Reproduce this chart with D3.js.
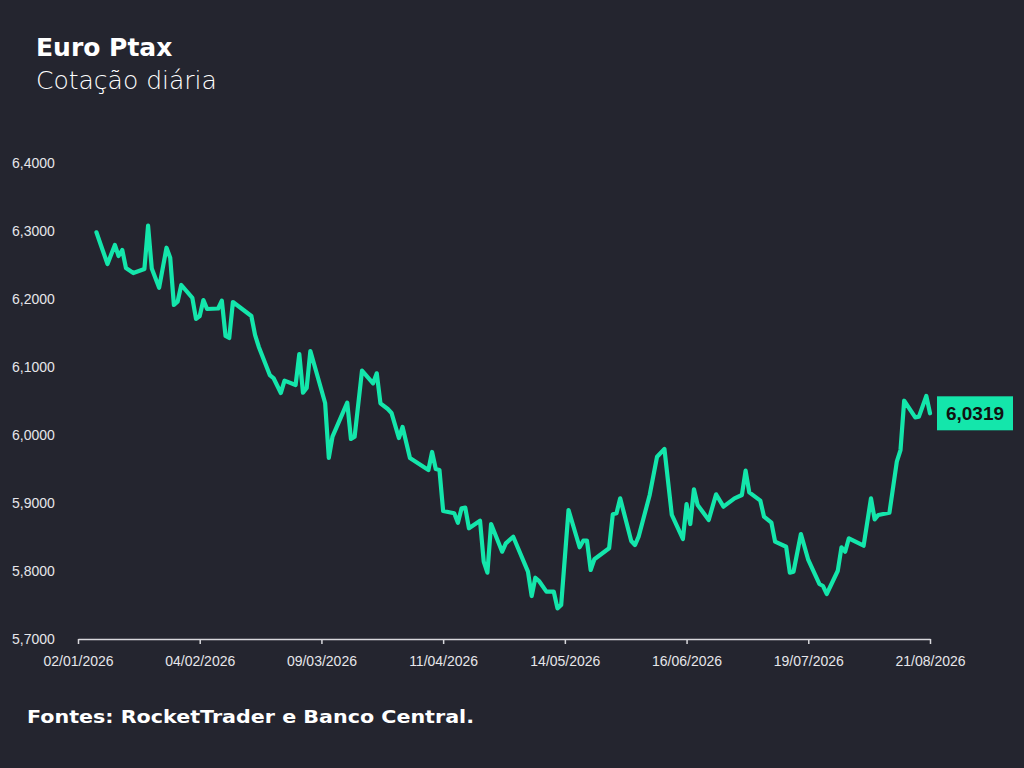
<!DOCTYPE html>
<html>
<head>
<meta charset="utf-8">
<script src="https://cdn.jsdelivr.net/npm/d3@7"></script>
<style>
  body { margin: 0; background: #24252f; }
  svg { display: block; }
</style>
</head>
<body>
<div id="vis"></div>
<script>
// Euro Ptax daily quote, 2026 (MM-DD)
const dates = ["01-07","01-08","01-10","01-12","01-13","01-14","01-15","01-17","01-20","01-21","01-22","01-24","01-26","01-27","01-28","01-29","01-30",
  "02-02","02-03","02-04","02-05","02-06","02-09","02-10","02-11","02-12","02-13","02-18","02-19","02-20","02-23","02-24","02-26","02-27",
  "03-02","03-03","03-04","03-05","03-06","03-10","03-11","03-12","03-16","03-17","03-18","03-20","03-23","03-24","03-25","03-27","03-28","03-30","03-31",
  "04-02","04-07","04-08","04-09","04-10","04-11","04-14","04-15","04-16","04-17","04-18","04-21","04-22","04-23","04-24","04-27","04-28","04-30",
  "05-04","05-05","05-06","05-07","05-09","05-11","05-12","05-13","05-15","05-18","05-19","05-20","05-21","05-22","05-26","05-27","05-28","05-29",
  "06-01","06-02","06-03","06-06","06-08","06-10","06-12","06-15","06-16","06-17","06-18","06-19","06-22","06-24","06-26","06-29",
  "07-01","07-02","07-03","07-06","07-07","07-09","07-10","07-13","07-14","07-15","07-17","07-19","07-22","07-23","07-24","07-27","07-28","07-29","07-30",
  "08-03","08-05","08-06","08-07","08-10","08-12","08-13","08-14","08-17","08-18","08-20","08-21"];
const values = [6.2981,6.2824,6.2515,6.2794,6.2632,6.2721,6.2456,6.2382,6.2441,6.3078,6.2450,6.2166,6.2754,6.2607,6.1912,6.1960,6.2206,
  6.2015,6.1706,6.1750,6.1985,6.1853,6.1860,6.1975,6.1456,6.1426,6.1956,6.1750,6.1471,6.1299,6.0882,6.0838,6.0618,6.0799,
  6.0735,6.1191,6.0622,6.0691,6.1235,6.0471,5.9662,5.9975,6.0475,5.9941,5.9975,6.0946,6.0760,6.0907,6.0466,6.0382,6.0324,5.9956,6.0118,
  5.9662,5.9485,5.9750,5.9500,5.9485,5.8882,5.8849,5.8710,5.8922,5.8931,5.8628,5.8740,5.8137,5.7975,5.8691,5.8284,5.8407,5.8504,
  5.7990,5.7632,5.7901,5.7853,5.7696,5.7696,5.7451,5.7500,5.8897,5.8349,5.8446,5.8446,5.8015,5.8172,5.8334,5.8834,5.8849,5.9069,
  5.8441,5.8382,5.8504,5.9118,5.9681,5.9794,5.8824,5.8471,5.8985,5.8691,5.9201,5.8971,5.8750,5.9128,5.8946,5.9069,
  5.9118,5.9475,5.9157,5.9034,5.8799,5.8710,5.8431,5.8357,5.7975,5.7990,5.8544,5.8162,5.7809,5.7779,5.7662,5.8004,5.8349,5.8284,5.8481,
  5.8372,5.9069,5.8760,5.8824,5.8857,5.9607,5.9779,6.0504,6.0260,6.0270,6.0574,6.0319];
const xTickDates = ["2026-01-02","2026-02-04","2026-03-09","2026-04-11","2026-05-14","2026-06-16","2026-07-19","2026-08-21"];
const yTicks = [5.7, 5.8, 5.9, 6.0, 6.1, 6.2, 6.3, 6.4];

const W = 1024, H = 768;
const lineColor = "#14e6ab";
const parse = d3.timeParse("%Y-%m-%d");
const data = dates.map((d, i) => ({ date: parse("2026-" + d), value: values[i] }));

const svg = d3.select("#vis").append("svg").attr("width", W).attr("height", H);
svg.append("rect").attr("width", W).attr("height", H).attr("fill", "#24252f");

const x = d3.scaleTime()
  .domain([parse("2026-01-02"), parse("2026-08-21")])
  .range([78, 930]);
const y = d3.scaleLinear().domain([5.7, 6.4]).range([639, 163]);

const fmtNum = v => d3.format(".4f")(v).replace(".", ",");
const fmtDate = d3.timeFormat("%d/%m/%Y");

// x axis
const gx = svg.append("g").attr("transform", "translate(0,639)")
  .call(d3.axisBottom(x).tickValues(xTickDates.map(parse)).tickFormat(fmtDate).tickSize(5).tickSizeOuter(0));
gx.select(".domain").attr("stroke", "#d8d8dc").attr("stroke-width", 1.5);
gx.selectAll(".tick line").attr("stroke", "#d8d8dc").attr("stroke-width", 1.5);
gx.selectAll(".tick text").attr("fill", "#e6e6ea").attr("font-size", 14)
  .attr("font-family", "Liberation Sans, Arial, sans-serif").attr("dy", "1.35em");

// y labels (no axis line)
svg.append("g").selectAll("text").data(yTicks).join("text")
  .attr("x", 12).attr("y", d => y(d) + 5)
  .attr("fill", "#e6e6ea").attr("font-size", 14)
  .attr("font-family", "Liberation Sans, Arial, sans-serif")
  .text(fmtNum);

// line
svg.append("path").datum(data)
  .attr("fill", "none").attr("stroke", lineColor).attr("stroke-width", 4.2)
  .attr("stroke-linejoin", "round").attr("stroke-linecap", "round")
  .attr("d", d3.line().x(d => x(d.date)).y(d => y(d.value)));

// last value label
const last = data[data.length - 1];
const ly = y(last.value);
svg.append("rect").attr("x", 937).attr("y", ly - 17).attr("width", 76).attr("height", 34).attr("fill", lineColor);
svg.append("text").attr("x", 975).attr("y", ly + 7).attr("text-anchor", "middle")
  .attr("font-family", "Liberation Sans, Arial, sans-serif").attr("font-weight", "bold")
  .attr("font-size", 19).attr("fill", "#111").text(fmtNum(last.value));

// titles
svg.append("text").attr("x", 36).attr("y", 56).attr("fill", "#fff")
  .attr("font-family", "DejaVu Sans, sans-serif").attr("font-weight", "bold").attr("font-size", 25)
  .text("Euro Ptax");
svg.append("text").attr("x", 36).attr("y", 89).attr("fill", "#fff")
  .attr("font-family", "DejaVu Sans, sans-serif").attr("font-weight", 200).attr("font-size", 25)
  .text("Cotação diária");
svg.append("text").attr("x", 27).attr("y", 723).attr("fill", "#fff")
  .attr("font-family", "DejaVu Sans, sans-serif").attr("font-weight", "bold").attr("font-size", 17)
  .attr("textLength", 447).attr("lengthAdjust", "spacingAndGlyphs")
  .text("Fontes: RocketTrader e Banco Central.");
</script>
</body>
</html>
